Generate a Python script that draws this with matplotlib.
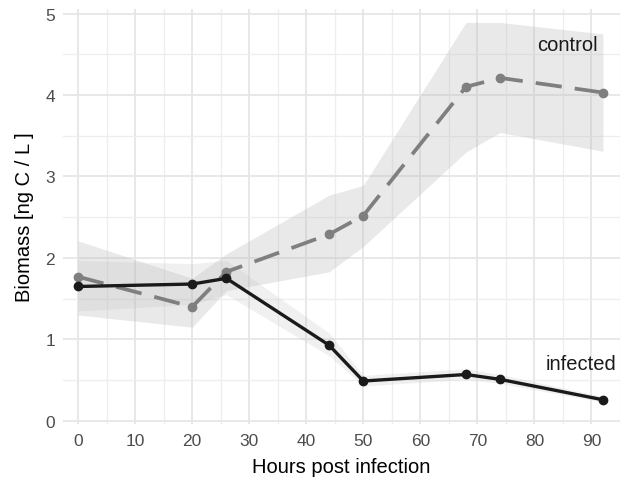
import matplotlib
matplotlib.use("Agg")
import matplotlib.pyplot as plt
from matplotlib.ticker import MultipleLocator

plt.rcParams["font.family"] = ["Liberation Sans", "DejaVu Sans"]

hours = [0, 20, 26, 44, 50, 68, 74, 92]

# control group
control = [1.77, 1.40, 1.83, 2.29, 2.52, 4.10, 4.21, 4.03]
control_lo = [1.30, 1.15, 1.60, 1.83, 2.14, 3.30, 3.54, 3.31]
control_hi = [2.21, 1.75, 2.05, 2.77, 2.89, 4.89, 4.89, 4.75]

# infected group
infected = [1.65, 1.68, 1.75, 0.93, 0.49, 0.57, 0.51, 0.26]
infected_lo = [1.35, 1.43, 1.55, 0.80, 0.43, 0.51, 0.46, 0.23]
infected_hi = [1.97, 1.93, 1.97, 1.08, 0.56, 0.64, 0.57, 0.30]

fig = plt.figure(figsize=(6.2, 4.81), dpi=100)
ax = fig.add_axes([0.102, 0.116, 0.898, 0.864])

ax.fill_between(hours, control_lo, control_hi, color="#bdbdbd", alpha=0.33, lw=0)
ax.fill_between(hours, infected_lo, infected_hi, color="#bdbdbd", alpha=0.22, lw=0)

ax.plot(hours, control, color="#7f7f7f", lw=2.7, dashes=(7, 3.5),
        marker="o", ms=6, zorder=3)
ax.plot(hours, infected, color="#1a1a1a", lw=2.4,
        marker="o", ms=6, zorder=4)

ax.text(85.7, 4.62, "control", fontsize=14.5, ha="center", va="center", color="#1a1a1a")
ax.text(88.2, 0.7, "infected", fontsize=14.5, ha="center", va="center", color="#1a1a1a")

ax.set_xlim(-2.6, 95)
ax.set_ylim(-0.04, 5.06)
ax.xaxis.set_major_locator(MultipleLocator(10))
ax.xaxis.set_minor_locator(MultipleLocator(5))
ax.yaxis.set_major_locator(MultipleLocator(1))
ax.yaxis.set_minor_locator(MultipleLocator(0.5))

ax.grid(which="major", color="#e6e6e6", lw=1.3)
ax.grid(which="minor", color="#eeeeee", lw=0.9)
ax.set_axisbelow(True)
for s in ax.spines.values():
    s.set_visible(False)
ax.tick_params(which="both", length=0, labelsize=12.5, labelcolor="#4d4d4d", pad=6)

ax.set_xlabel("Hours post infection", fontsize=14.5, labelpad=7)
ax.set_ylabel("Biomass [ng C / L ]", fontsize=14.5, labelpad=8)

fig.savefig("out.png", dpi=100)
